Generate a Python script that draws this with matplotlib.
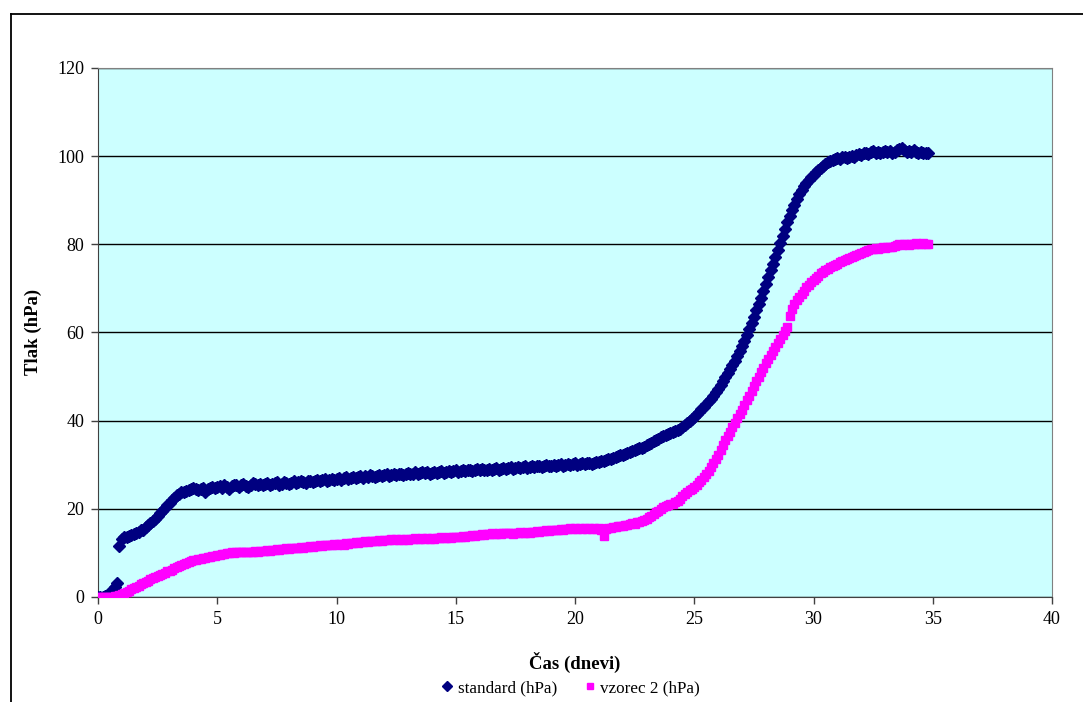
"""
Tlak v odvisnosti od casa: standard in vzorec 2 (Excel-style scatter chart).
"""
import matplotlib
matplotlib.use("Agg")
import matplotlib.pyplot as plt
from matplotlib.lines import Line2D
import numpy as np

# sampling step of the measurements, in days
step_days = 0.1

# standard (hPa), one row per day (t = d.0 ... d.9)
standard = [
    0.0, 0.0, 0.0, 0.2, 0.5, 1.0, 1.6, 2.2, 3.2, 11.6,
    13.2, 13.5, 13.6, 13.9, 14.1, 14.3, 14.6, 14.8, 15.1, 15.3,
    15.8, 16.3, 16.7, 17.2, 17.8, 18.4, 19.1, 19.6, 20.2, 20.8,
    21.4, 22.0, 22.5, 23.1, 23.4, 23.7, 23.9, 24.1, 24.2, 24.4,
    24.7, 24.5, 24.3, 24.6, 24.8, 23.9, 24.5, 24.8, 25.0, 24.7,
    24.9, 25.1, 24.8, 25.4, 25.0, 24.6, 25.2, 25.5, 25.3, 25.0,
    25.4, 25.6, 25.2, 24.9, 25.5, 25.8, 25.6, 25.3, 25.7, 25.4,
    25.6, 25.9, 25.3, 25.6, 25.8, 26.0, 25.5, 25.7, 26.1, 25.8,
    25.6, 25.9, 26.2, 25.8, 26.0, 26.3, 26.1, 25.9, 26.4, 26.2,
    26.0, 26.4, 26.6, 26.2, 26.5, 26.7, 26.3, 26.6, 26.8, 26.5,
    26.8, 27.0, 26.6, 26.9, 27.2, 26.8, 27.1, 27.3, 26.9, 27.2,
    27.4, 27.1, 27.5, 27.3, 27.6, 27.4, 27.2, 27.5, 27.7, 27.4,
    27.6, 27.8, 27.5, 27.7, 27.9, 27.6, 27.8, 28.0, 27.7, 27.9,
    28.1, 27.8, 28.0, 28.3, 28.0, 28.2, 28.4, 28.1, 28.3, 28.0,
    28.2, 28.4, 28.1, 28.3, 28.5, 28.2, 28.4, 28.6, 28.3, 28.5,
    28.7, 28.4, 28.6, 28.8, 28.5, 28.7, 28.9, 28.6, 28.8, 29.0,
    28.8, 29.0, 28.7, 28.9, 29.1, 28.8, 29.0, 29.2, 28.9, 29.1,
    29.3, 29.0, 29.2, 29.4, 29.1, 29.3, 29.5, 29.2, 29.4, 29.6,
    29.3, 29.5, 29.7, 29.4, 29.6, 29.8, 29.5, 29.7, 29.9, 29.6,
    29.8, 30.0, 29.7, 29.9, 30.1, 29.8, 30.0, 30.2, 29.9, 30.1,
    30.3, 30.0, 30.2, 30.4, 30.1, 30.3, 30.5, 30.2, 30.4, 30.6,
    30.6, 30.8, 30.9, 31.0, 31.2, 31.4, 31.6, 31.8, 32.0, 32.1,
    32.3, 32.5, 32.7, 32.9, 33.1, 33.3, 33.5, 33.7, 33.9, 34.1,
    34.4, 34.7, 35.0, 35.3, 35.6, 35.9, 36.2, 36.5, 36.8, 37.0,
    37.2, 37.4, 37.6, 37.9, 38.2, 38.6, 39.0, 39.4, 40.0, 40.4,
    40.8, 41.4, 42.0, 42.6, 43.2, 43.8, 44.4, 45.0, 45.7, 46.4,
    47.2, 48.1, 49.0, 49.9, 50.8, 51.6, 52.6, 53.6, 54.7, 55.8,
    56.9, 58.1, 59.4, 60.8, 62.2, 63.6, 65.0, 66.4, 67.8, 69.4,
    71.0, 72.6, 74.1, 75.6, 77.1, 78.6, 80.2, 81.8, 83.4, 85.0,
    86.5, 87.8, 89.0, 90.2, 91.4, 92.4, 93.2, 93.9, 94.6, 95.2,
    95.7, 96.3, 96.8, 97.3, 97.8, 98.3, 98.6, 98.9, 99.1, 99.3,
    99.5, 99.4, 99.7, 99.9, 99.6, 99.8, 100.1, 99.9, 100.2, 100.4,
    100.3, 100.6, 100.8, 100.5, 100.9, 101.1, 100.8, 101.0, 100.7, 101.0,
    101.2, 100.9, 101.1, 100.8, 101.0, 101.3, 101.7, 101.9, 101.5, 101.0,
    101.2, 100.9, 101.3, 101.0, 100.7, 101.0, 100.8, 100.6, 100.7,
]

# vzorec 2 (hPa), same sampling
vzorec2 = [
    0.0, 0.0, 0.0, 0.0, 0.0, 0.0, 0.1, 0.2, 0.3, 0.5,
    0.7, 0.9, 1.1, 1.4, 1.7, 2.0, 2.3, 2.6, 2.9, 3.2,
    3.5, 3.7, 4.0, 4.2, 4.5, 4.7, 5.0, 5.3, 5.5, 5.8,
    6.0, 6.2, 6.5, 6.8, 7.0, 7.2, 7.4, 7.6, 7.9, 8.1,
    8.4, 8.5, 8.6, 8.7, 8.8, 8.9, 9.0, 9.1, 9.2, 9.4,
    9.5, 9.6, 9.7, 9.8, 10.0, 10.0, 10.1, 10.0, 10.2, 10.1,
    10.2, 10.1, 10.3, 10.2, 10.3, 10.2, 10.4, 10.3, 10.5, 10.4,
    10.5, 10.6, 10.5, 10.7, 10.6, 10.8, 10.7, 10.9, 10.8, 11.0,
    10.9, 11.1, 11.0, 11.2, 11.1, 11.3, 11.2, 11.4, 11.3, 11.5,
    11.4, 11.6, 11.5, 11.7, 11.6, 11.8, 11.7, 11.9, 11.8, 12.0,
    11.9, 12.1, 12.0, 11.8, 12.2, 12.1, 12.3, 12.2, 12.4, 12.3,
    12.5, 12.4, 12.6, 12.5, 12.7, 12.6, 12.8, 12.7, 12.9, 12.8,
    12.9, 13.0, 12.9, 13.1, 13.0, 13.1, 12.9, 13.2, 13.0, 13.1,
    13.0, 13.2, 13.1, 13.3, 13.1, 13.2, 13.4, 13.2, 13.3, 13.1,
    13.3, 13.2, 13.4, 13.3, 13.5, 13.4, 13.3, 13.5, 13.4, 13.6,
    13.5, 13.7, 13.6, 13.8, 13.7, 13.9, 13.8, 14.0, 13.9, 14.1,
    14.0, 14.2, 14.1, 14.3, 14.2, 14.4, 14.3, 14.2, 14.4, 14.3,
    14.5, 14.4, 14.6, 14.5, 14.3, 14.6, 14.5, 14.7, 14.6, 14.5,
    14.7, 14.6, 14.8, 14.7, 14.9, 14.8, 15.0, 14.9, 15.1, 15.0,
    15.2, 15.1, 15.3, 15.2, 15.4, 15.3, 15.5, 15.4, 15.6, 15.5,
    15.6, 15.4, 15.7, 15.5, 15.6, 15.4, 15.7, 15.5, 15.6, 15.4,
    15.6, 15.3, 13.9, 15.5, 15.7, 15.6, 15.8, 15.9, 16.1, 16.0,
    16.2, 16.4, 16.3, 16.5, 16.7, 16.6, 16.9, 17.1, 17.3, 17.5,
    17.8, 18.1, 18.4, 18.8, 19.2, 19.6, 20.0, 20.4, 20.6, 20.8,
    21.0, 21.2, 21.5, 21.8, 22.2, 22.8, 23.4, 23.8, 24.3, 24.6,
    25.0, 25.5, 26.0, 26.6, 27.2, 27.8, 28.6, 29.4, 30.3, 31.2,
    32.3, 33.4, 34.5, 35.5, 36.5, 37.5, 38.5, 39.5, 40.5, 41.4,
    42.4, 43.5, 44.6, 45.7, 46.8, 47.9, 49.0, 50.0, 51.0, 52.0,
    53.0, 54.0, 55.0, 55.9, 56.8, 57.7, 58.6, 59.5, 60.4, 61.2,
    63.8, 65.4, 66.5, 67.4, 68.1, 68.8, 69.5, 70.2, 70.8, 71.4,
    71.9, 72.4, 72.9, 73.4, 73.8, 74.2, 74.5, 74.8, 75.1, 75.4,
    75.6, 75.9, 76.1, 76.4, 76.6, 76.9, 77.1, 77.3, 77.6, 77.8,
    78.0, 78.2, 78.5, 78.7, 78.9, 79.0, 79.1, 78.9, 79.2, 79.3,
    79.2, 79.4, 79.3, 79.5, 79.6, 79.8, 80.0, 79.9, 80.1, 80.0,
    79.9, 80.1, 80.0, 80.2, 80.1, 80.0, 80.2, 80.1, 80.0,
]

series_labels = ["standard (hPa)", "vzorec 2 (hPa)"]
x_ticks = [0, 5, 10, 15, 20, 25, 30, 35, 40]
y_ticks = [0, 20, 40, 60, 80, 100, 120]

t_days = np.arange(len(standard)) * step_days

plt.rcParams["font.family"] = ["Liberation Serif", "DejaVu Serif"]

fig = plt.figure(figsize=(10.83, 7.02), dpi=100)
ax = fig.add_axes([0.0905, 0.1496, 0.8809, 0.7536])
ax.set_facecolor("#CCFFFF")

ax.plot(t_days, standard, linestyle="none", marker="D", markersize=6.3,
        color="#000080", label=series_labels[0], zorder=3)
ax.plot(t_days, vzorec2, linestyle="none", marker="s", markersize=6.3,
        color="#FF00FF", label=series_labels[1], zorder=3)

ax.set_xlim(0, 40)
ax.set_ylim(0, 120)
ax.set_xticks(x_ticks)
ax.set_yticks(y_ticks)
ax.tick_params(direction="out", length=5, width=1, labelsize=13, pad=5, color="#404040")
ax.yaxis.grid(True, color="black", linewidth=1)
ax.set_axisbelow(True)
for side in ["top", "right"]:
    ax.spines[side].set_color("#808080")
for side in ["left", "bottom"]:
    ax.spines[side].set_color("#404040")

ax.set_xlabel("Čas (dnevi)", fontsize=13.5, fontweight="bold")
ax.set_ylabel("Tlak (hPa)", fontsize=13.5, fontweight="bold")
ax.xaxis.set_label_coords(0.5, -0.104)
ax.yaxis.set_label_coords(-0.0587, 0.501)

ax.legend(loc="center", bbox_to_anchor=(0.527, 0.02), bbox_transform=fig.transFigure,
          ncol=2, frameon=False, fontsize=12.3, markerscale=0.75, handlelength=0.7,
          handletextpad=0.25, columnspacing=1.6)

# outer chart frame (left and top edges visible in the picture)
fx = 11 / 1083
fy = 1 - 14 / 702
fig.add_artist(Line2D([fx, fx], [0, fy], transform=fig.transFigure, color="black", linewidth=1.3))
fig.add_artist(Line2D([fx, 1], [fy, fy], transform=fig.transFigure, color="black", linewidth=1.3))

fig.savefig("out.png", dpi=100)
plt.close(fig)
